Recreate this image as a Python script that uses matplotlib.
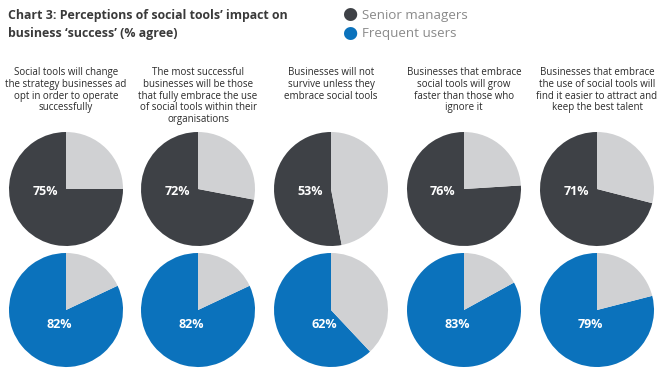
import matplotlib
matplotlib.use('Agg')
import matplotlib.pyplot as plt

plt.rcParams['font.family'] = ['Open Sans', 'DejaVu Sans']

# ---- data -------------------------------------------------------------------
questions = [
    'Social tools will change\nthe strategy businesses ad\nopt in order to operate\nsuccessfully',
    'The most successful\nbusinesses will be those\nthat fully embrace the use\nof social tools within their\norganisations',
    'Businesses will not\nsurvive unless they\nembrace social tools',
    'Businesses that embrace\nsocial tools will grow\nfaster than those who\nignore it',
    'Businesses that embrace\nthe use of social tools will\nfind it easier to attract and\nkeep the best talent',
]
senior = [75, 72, 53, 76, 71]
frequent = [82, 82, 62, 83, 79]
series_names = ['Senior managers', 'Frequent users']

DARK = '#3e4146'
BLUE = '#0b72bc'
REST = '#d0d1d3'

W, H = 670, 378
fig = plt.figure(figsize=(W / 100, H / 100), dpi=100)
fig.patch.set_facecolor('white')


def fx(px):
    return px / W


def fy(py):
    return 1 - py / H


# title
fig.text(fx(8), fy(15), 'Chart 3: Perceptions of social tools\u2019 impact on',
         fontsize=8.9, fontweight='bold', color='#3a3a3a', va='center', ha='left')
fig.text(fx(8), fy(33), 'business \u2018success\u2019 (% agree)',
         fontsize=8.9, fontweight='bold', color='#3a3a3a', va='center', ha='left')

# legend
for i, (name, col) in enumerate(zip(series_names, [DARK, BLUE])):
    y = 15 + 19 * i
    fig.text(fx(342), fy(y), '\u25cf', fontsize=12.5, color=col, va='center', ha='left')
    fig.text(fx(362), fy(y), name, fontsize=9.6, color='#8a8a8a', va='center', ha='left')

centers_x = [66, 198, 331, 464, 597]
R = 57
rows = [(senior, DARK, 189, (-0.37, -0.05)), (frequent, BLUE, 310, (-0.12, -0.26))]

for q, cx in zip(questions, centers_x):
    fig.text(fx(cx), fy(67), q, fontsize=7.0, color='#2a2a2a', ha='center', va='top',
             linespacing=1.1)

for vals, col, cy, (ox, oy) in rows:
    for v, cx in zip(vals, centers_x):
        ax = fig.add_axes([fx(cx - R), fy(cy + R), 2 * R / W, 2 * R / H])
        ax.pie([v, 100 - v], colors=[col, REST], startangle=90, counterclock=True,
               radius=1, wedgeprops=dict(linewidth=0))
        ax.set_xlim(-1, 1)
        ax.set_ylim(-1, 1)
        ax.set_aspect('equal')
        ax.axis('off')
        ax.text(ox, oy, f'{v}%', color='white', fontsize=9, fontweight='bold',
                ha='center', va='center')

fig.savefig('out.png', dpi=100)
